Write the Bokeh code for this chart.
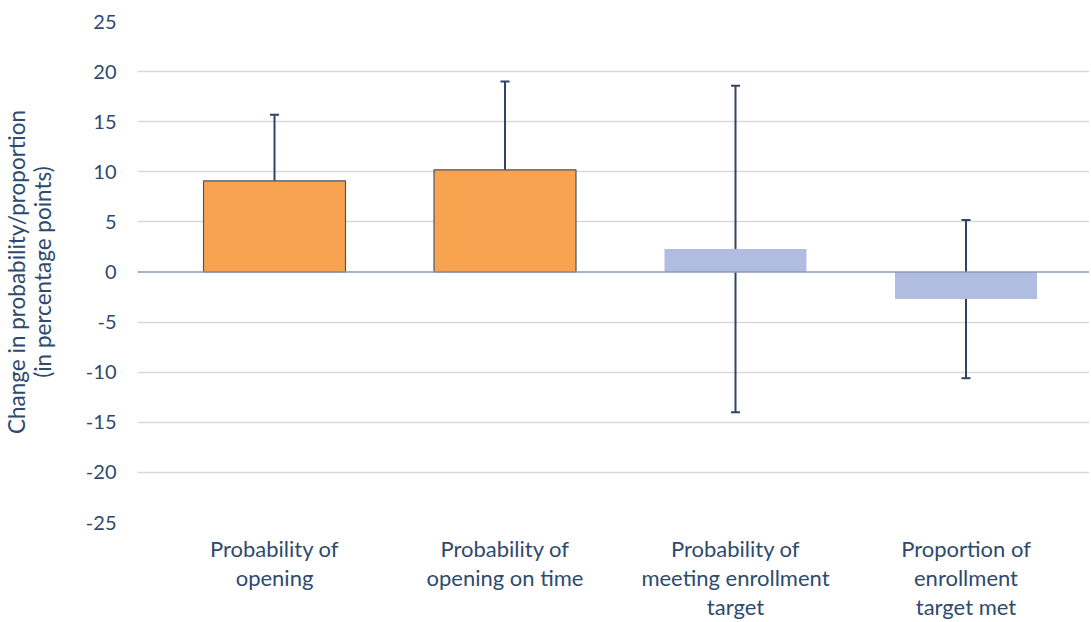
from bokeh.plotting import figure
from bokeh.models import FixedTicker, Span, Whisker, ColumnDataSource, Range1d
from bokeh.embed import file_html
from bokeh.resources import INLINE

categories = ["Probability of\nopening", "Probability of\nopening on time",
              "Probability of\nmeeting enrollment\ntarget", "Proportion of\nenrollment\ntarget met"]
estimates = [9.1, 10.2, 2.3, -2.7]
ci_lower = [2.4, 1.6, -14.0, -10.6]
ci_upper = [15.7, 19.0, 18.6, 5.2]
significant = [True, True, False, False]
y_ticks = [-25, -20, -15, -10, -5, 0, 5, 10, 15, 20, 25]

TEXT = "#2E4A6E"
FONT = "Lato"

xs = list(range(1, len(categories) + 1))
fills = ["#F7A34F" if s else "#B0BDE1" for s in significant]
alphas = [1.0 if s else 0.0 for s in significant]
src = ColumnDataSource(dict(x=xs, top=estimates, lo=ci_lower, hi=ci_upper,
                            fill=fills, la=alphas))

p = figure(frame_width=952, frame_height=501, output_backend="svg", toolbar_location=None,
           x_range=Range1d(0.4056, 4.5358), y_range=Range1d(-25, 25),
           min_border_left=135, min_border_right=0, min_border_top=21, min_border_bottom=0)
p.outline_line_color = None
p.background_fill_color = "white"

p.vbar(x="x", top="top", bottom=0, width=0.616, source=src, fill_color="fill",
       line_color="#4A5668", line_alpha="la", line_width=1.2)

p.add_layout(Span(location=0, dimension="width", line_color="#8A9AB4", line_width=1.6))

w = Whisker(base="x", lower="lo", upper="hi", source=src, line_color="#2F4466", line_width=2)
for h in (w.upper_head, w.lower_head):
    h.size = 9
    h.line_color = "#2F4466"
    h.line_width = 2
p.add_layout(w)

# grid
p.xgrid.grid_line_color = None
p.ygrid.ticker = FixedTicker(ticks=[t for t in y_ticks if t != 0])
p.ygrid.grid_line_color = "#D9D9D9"
p.ygrid.grid_line_width = 1.3

# y axis
p.yaxis.ticker = FixedTicker(ticks=y_ticks)
p.yaxis.major_label_overrides = {t: str(t) for t in y_ticks}
p.yaxis.axis_line_color = None
p.yaxis.major_tick_line_color = None
p.yaxis.minor_tick_line_color = None
p.yaxis.major_label_standoff = 15
p.yaxis.major_label_text_font = FONT
p.yaxis.major_label_text_font_size = "20px"
p.yaxis.major_label_text_color = TEXT
p.yaxis.axis_label = "Change in probability/proportion\n(in percentage points)"
p.yaxis.axis_label_text_font = FONT
p.yaxis.axis_label_text_font_size = "22.5px"
p.yaxis.axis_label_text_font_style = "normal"
p.yaxis.axis_label_text_color = TEXT
p.yaxis.axis_label_standoff = 27
p.yaxis.axis_label_text_line_height = 0.95

# x axis
p.xaxis.ticker = FixedTicker(ticks=xs)
p.xaxis.major_label_overrides = {x: c for x, c in zip(xs, categories)}
p.xaxis.axis_line_color = None
p.xaxis.major_tick_line_color = None
p.xaxis.minor_tick_line_color = None
p.xaxis.major_label_standoff = 6
p.xaxis.major_label_text_font = FONT
p.xaxis.major_label_text_font_size = "22px"
p.xaxis.major_label_text_color = TEXT
p.xaxis.major_label_text_line_height = 1.09

open("out.html", "w").write(file_html(p, INLINE))
